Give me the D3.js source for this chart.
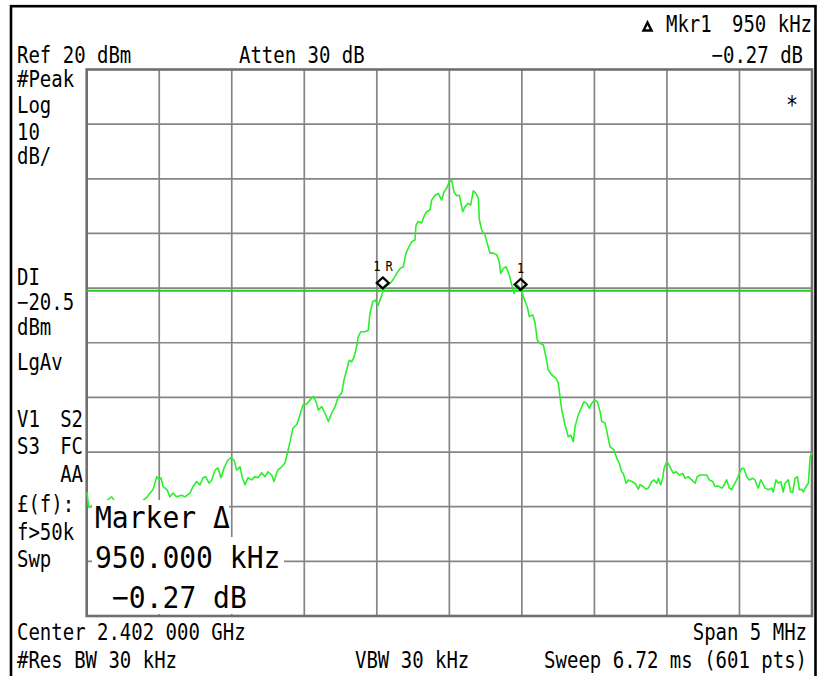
<!DOCTYPE html>
<html>
<head>
<meta charset="utf-8">
<script src="https://cdn.jsdelivr.net/npm/d3@7"></script>
<style>
  html, body { margin: 0; padding: 0; background: #fff; }
  svg text { font-family: "DejaVu Sans Mono", monospace; fill: #000; }
</style>
</head>
<body>
<div id="chart"></div>
<script>
// frequency offset from centre (MHz) and level (dBm)
const traceFreq = [
  -2.498, -2.488, -2.477, -2.443, -2.408, -2.374, -2.328, -2.298, -2.257, -2.215, -2.174, -2.133, -2.086,
  -2.064, -2.043, -2.017, -2.002, -1.988, -1.974, -1.946, -1.926, -1.905, -1.880, -1.845, -1.822,
  -1.788, -1.767, -1.742, -1.719, -1.698, -1.680, -1.657, -1.638, -1.615, -1.595, -1.574, -1.553,
  -1.528, -1.505, -1.484, -1.466, -1.443, -1.429, -1.409, -1.388, -1.363, -1.340, -1.319, -1.294,
  -1.271, -1.250, -1.225, -1.209, -1.183, -1.156, -1.133, -1.114, -1.098, -1.078, -1.052, -1.030,
  -1.009, -0.983, -0.961, -0.938, -0.916, -0.903, -0.880, -0.857, -0.834, -0.811, -0.788, -0.765,
  -0.742, -0.726, -0.708, -0.690, -0.673, -0.657, -0.639, -0.628, -0.611, -0.581, -0.559, -0.547,
  -0.528, -0.512, -0.490, -0.478, -0.459, -0.443, -0.421, -0.397, -0.375, -0.363, -0.340, -0.317,
  -0.299, -0.283, -0.259, -0.237, -0.230, -0.214, -0.191, -0.175, -0.156, -0.133, -0.122, -0.099,
  -0.076, -0.053, -0.037, -0.018, 0.000, 0.016, 0.032, 0.051, 0.069, 0.092, 0.108, 0.131,
  0.147, 0.165, 0.184, 0.200, 0.207, 0.223, 0.246, 0.258, 0.280, 0.303, 0.327, 0.344,
  0.354, 0.372, 0.391, 0.413, 0.430, 0.446, 0.468, 0.499, 0.510, 0.537, 0.551, 0.575,
  0.591, 0.606, 0.625, 0.648, 0.666, 0.682, 0.706, 0.735, 0.751, 0.763, 0.775, 0.797,
  0.820, 0.837, 0.855, 0.866, 0.889, 0.913, 0.928, 0.947, 0.965, 0.981, 1.004, 1.020,
  1.039, 1.050, 1.073, 1.084, 1.107, 1.135, 1.154, 1.172, 1.188, 1.199, 1.218, 1.234,
  1.257, 1.280, 1.303, 1.314, 1.337, 1.356, 1.372, 1.395, 1.411, 1.430, 1.441, 1.457,
  1.471, 1.480, 1.498, 1.510, 1.526, 1.544, 1.563, 1.585, 1.609, 1.625, 1.647, 1.671,
  1.694, 1.709, 1.728, 1.751, 1.774, 1.792, 1.816, 1.831, 1.854, 1.878, 1.889, 1.912,
  1.930, 1.947, 1.962, 1.981, 1.999, 2.016, 2.031, 2.050, 2.068, 2.091, 2.107, 2.119,
  2.130, 2.146, 2.160, 2.176, 2.199, 2.222, 2.233, 2.252, 2.268, 2.284, 2.302, 2.314,
  2.337, 2.353, 2.367, 2.383, 2.399, 2.413, 2.429, 2.440, 2.459, 2.475, 2.487, 2.500
];
const traceLevel = [
  -57.3, -59.9, -60.1, -59.3, -59.5, -59.1, -58.2, -59.3, -59.0, -59.5, -59.1, -59.3, -58.3,
  -57.5, -56.9, -54.5, -55.1, -54.7, -56.3, -56.9, -58.2, -57.5, -58.2, -57.9, -58.2,
  -57.5, -56.3, -55.4, -56.0, -54.7, -54.5, -55.7, -55.1, -53.3, -52.9, -54.7, -52.9,
  -51.5, -51.0, -51.5, -53.3, -52.7, -54.5, -56.0, -54.7, -55.1, -54.5, -54.7, -53.8,
  -54.5, -53.6, -54.2, -55.4, -53.3, -52.7, -52.0, -49.9, -48.1, -45.6, -45.0, -43.2,
  -41.4, -41.2, -40.5, -39.8, -41.0, -42.3, -41.7, -42.9, -44.4, -42.9, -41.7, -39.9,
  -39.2, -36.8, -35.0, -33.2, -33.5, -32.6, -30.7, -28.9, -28.0, -28.0, -27.7, -24.6,
  -22.5, -22.2, -23.1, -22.2, -20.7, -19.7, -19.4, -18.8, -17.9, -17.3, -16.4, -16.1,
  -13.6, -12.7, -11.5, -11.2, -8.5, -7.8, -8.1, -6.9, -6.0, -5.7, -3.9, -3.0,
  -2.7, -3.9, -2.4, -1.7, -0.5, -0.3, -2.4, -3.1, -3.0, -6.0, -5.1, -4.5,
  -4.8, -2.2, -2.7, -3.6, -7.5, -9.4, -10.3, -11.5, -13.6, -13.6, -13.9, -15.2,
  -17.3, -16.4, -16.1, -17.6, -19.4, -21.0, -19.4, -20.3, -21.6, -23.4, -25.2, -24.9,
  -26.4, -29.5, -30.1, -30.4, -32.6, -35.0, -35.9, -36.5, -37.4, -39.9, -42.3, -45.0,
  -47.2, -46.9, -48.1, -45.4, -43.2, -41.7, -40.8, -41.1, -42.0, -41.1, -40.5, -40.8,
  -42.6, -44.4, -44.7, -46.0, -49.0, -49.6, -51.1, -52.1, -53.6, -53.9, -55.7, -55.1,
  -55.4, -55.7, -56.8, -56.0, -56.3, -56.8, -56.6, -55.4, -55.1, -55.7, -54.8, -56.0,
  -54.8, -53.0, -51.8, -52.1, -53.0, -53.9, -53.6, -54.2, -53.9, -54.8, -54.5, -55.1,
  -55.7, -54.5, -54.2, -54.2, -54.2, -55.1, -55.4, -56.3, -56.2, -56.6, -56.3, -55.1,
  -56.6, -56.9, -56.0, -55.1, -53.9, -53.0, -53.0, -54.5, -55.1, -54.8, -55.1, -56.0,
  -56.6, -55.1, -55.7, -56.6, -56.9, -56.6, -57.3, -55.1, -55.7, -55.4, -57.3, -55.7,
  -55.1, -57.3, -57.4, -54.8, -54.5, -56.9, -56.8, -57.3, -56.3, -55.7, -50.9, -50.1
];

// axis settings of the analyser screen
const spanMHz = [-2.5, 2.5];
const levelRange = [-80, 20];
const xDivs = 10;
const yDivs = 10;
const displayLine = -20.5;

// markers: reference 1R and delta marker 1
const markerNames = ["1R", "1"];
const markerFreq = [-0.459, 0.491];
const markerLevel = [-20.06, -20.33];

const W = 818, H = 676;
const plot = { left: 86.7, right: 812, top: 69.5, bottom: 616 };

const svg = d3.select("#chart").append("svg")
    .attr("width", W)
    .attr("height", H);

svg.append("rect").attr("width", W).attr("height", H).attr("fill", "#fff");

const x = d3.scaleLinear().domain(spanMHz).range([plot.left, plot.right]);
const y = d3.scaleLinear().domain(levelRange).range([plot.bottom, plot.top]);

// graticule
const xGrid = d3.range(xDivs + 1).map(i => spanMHz[0] + i * (spanMHz[1] - spanMHz[0]) / xDivs);
const yGrid = d3.range(yDivs + 1).map(i => levelRange[0] + i * (levelRange[1] - levelRange[0]) / yDivs);

const grid = svg.append("g").attr("stroke", "#858585").attr("stroke-width", 1.7);
grid.selectAll("line.v").data(xGrid.slice(1, -1)).enter().append("line")
    .attr("class", "v")
    .attr("x1", d => x(d)).attr("x2", d => x(d))
    .attr("y1", plot.top).attr("y2", plot.bottom);
grid.selectAll("line.h").data(yGrid.slice(1, -1)).enter().append("line")
    .attr("class", "h")
    .attr("y1", d => y(d)).attr("y2", d => y(d))
    .attr("x1", plot.left).attr("x2", plot.right);

svg.append("rect")
    .attr("x", plot.left).attr("y", plot.top)
    .attr("width", plot.right - plot.left).attr("height", plot.bottom - plot.top)
    .attr("fill", "none").attr("stroke", "#6f6f6f").attr("stroke-width", 2.6);

// display line
svg.append("line")
    .attr("x1", plot.left).attr("x2", plot.right)
    .attr("y1", y(displayLine)).attr("y2", y(displayLine))
    .attr("stroke", "#22cc22").attr("stroke-width", 2);

// trace
const trace = traceFreq.map((f, i) => ({ f: f, v: traceLevel[i] }));
svg.append("path")
    .datum(trace)
    .attr("fill", "none")
    .attr("stroke", "#2af02a")
    .attr("stroke-width", 1.6)
    .attr("stroke-linejoin", "round")
    .attr("d", d3.line().x(d => x(d.f)).y(d => y(d.v)));

// markers (diamond sits on the trace with its lower tip)
const mk = svg.append("g");
markerFreq.forEach((f, i) => {
    const mx = x(f), my = y(markerLevel[i]);
    mk.append("path")
        .attr("d", `M${mx},${my - 11} L${mx + 6},${my - 5.5} L${mx},${my} L${mx - 6},${my - 5.5} Z`)
        .attr("fill", "none").attr("stroke", "#000").attr("stroke-width", 2.2);
    const t = mk.append("text")
        .attr("transform", `translate(${i === 0 ? mx - 9.5 : mx},${my - 17}) scale(1,1.15)`)
        .attr("text-anchor", i === 0 ? "start" : "middle")
        .style("font-size", "12px")
        .text(markerNames[i]);
    if (i === 0) t.attr("letter-spacing", 5);
});

// text helper
function label(tx, ty, str, opt) {
    opt = opt || {};
    return svg.append("text")
        .attr("transform", `translate(${tx},${ty}) scale(1,${opt.sy || 1.2})`)
        .attr("text-anchor", opt.anchor || "start")
        .style("font-size", (opt.size || 19) + "px")
        .text(str);
}

// header
label(17, 63, "Ref 20 dBm");
label(239, 63, "Atten 30 dB");
label(666, 31.5, "Mkr1");
label(812, 31.5, "950 kHz", { anchor: "end" });
label(803, 63, "\u22120.27 dB", { anchor: "end" });
svg.append("path")
    .attr("d", "M643.5,30.5 L647.5,22.5 L651.5,30.5 Z")
    .attr("fill", "#fff").attr("stroke", "#000").attr("stroke-width", 2.4);
label(792, 113, "*", { anchor: "middle", size: 20 });

// left annotation column
label(17, 87, "#Peak");
label(17, 113, "Log");
label(17, 140, "10");
label(17, 164, "dB/");
label(17, 285, "DI");
label(17, 310, "\u221220.5");
label(17, 335, "dBm");
label(17, 370, "LgAv");
label(17, 427, "V1");
label(83, 427, "S2", { anchor: "end" });
label(17, 454, "S3");
label(83, 454, "FC", { anchor: "end" });
label(83, 482, "AA", { anchor: "end" });
label(17, 512, "\u00a3(f):");
label(17, 540, "f>50k");
label(17, 567, "Swp");

// footer
label(17, 640, "Center 2.402 000 GHz");
label(807, 640, "Span 5 MHz", { anchor: "end" });
label(17, 668, "#Res BW 30 kHz");
label(355, 668, "VBW 30 kHz");
label(807, 668, "Sweep 6.72 ms (601 pts)", { anchor: "end" });

// marker readout block on top of the graticule
const box = svg.append("g");
box.append("rect").attr("x", 92).attr("y", 500).attr("width", 137).attr("height", 37).attr("fill", "#fff");
box.append("rect").attr("x", 92).attr("y", 537).attr("width", 192).attr("height", 38).attr("fill", "#fff");
box.append("rect").attr("x", 89).attr("y", 575).attr("width", 169).attr("height", 39).attr("fill", "#fff");
label(95, 528, "Marker \u0394", { size: 28, sy: 1.1 });
label(95, 568, "950.000 kHz", { size: 28, sy: 1.1 });
label(112, 608, "\u22120.27 dB", { size: 28, sy: 1.1 });

// instrument frame
svg.append("rect")
    .attr("x", 11).attr("y", 6.2)
    .attr("width", 804.5).attr("height", 700)
    .attr("fill", "none").attr("stroke", "#000").attr("stroke-width", 2.6);
</script>
</body>
</html>
